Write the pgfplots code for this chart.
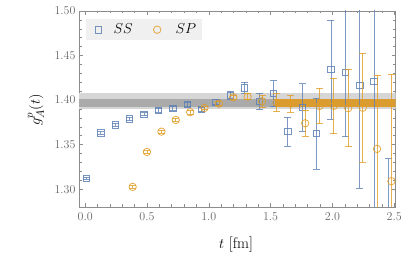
\documentclass[border=0pt]{standalone}
\usepackage{pgfplots}
\pgfplotsset{compat=1.18}
\usepackage{pgfplotstable}
\definecolor{mblue}{rgb}{0.368417,0.506779,0.709798}
\definecolor{morange}{rgb}{0.880722,0.611041,0.142051}
\definecolor{bandlight}{RGB}{214,214,214}
\definecolor{banddark}{RGB}{170,170,170}
\definecolor{bandorange}{RGB}{218,155,48}

\pgfplotstableread{
t g e
0.011 1.3123 0.0012
0.127 1.3632 0.0015
0.244 1.3721 0.0015
0.360 1.3789 0.0018
0.476 1.3841 0.0018
0.593 1.3886 0.0020
0.709 1.3909 0.0020
0.825 1.3949 0.0025
0.941 1.3893 0.0025
1.058 1.3976 0.0030
1.174 1.4054 0.0047
1.290 1.4136 0.0066
1.407 1.3983 0.0093
1.523 1.4072 0.0144
1.639 1.3646 0.0165
1.756 1.3920 0.0266
1.872 1.3624 0.0400
1.988 1.4342 0.0557
2.104 1.4308 0.0718
2.221 1.4162 0.1150
2.337 1.4211 0.1600
2.453 1.2200 0.1140
}\datass

\pgfplotstableread{
t g e
0.384 1.3026 0.0015
0.500 1.3418 0.0015
0.617 1.3646 0.0018
0.733 1.3777 0.0018
0.849 1.3864 0.0020
0.965 1.3912 0.0020
1.082 1.3960 0.0025
1.198 1.4032 0.0025
1.314 1.4039 0.0035
1.431 1.3987 0.0065
1.547 1.3971 0.0100
1.663 1.3960 0.0095
1.780 1.3740 0.0146
1.896 1.3934 0.0199
2.012 1.3934 0.0310
2.128 1.3909 0.0430
2.245 1.3914 0.0610
2.361 1.3452 0.0830
2.477 1.3090 0.1200
}\datasp

\begin{document}
\begin{tikzpicture}
\useasboundingbox (-79pt,-52pt) rectangle (328pt,207pt);
\begin{axis}[
  scale only axis, width=316.7pt, height=196pt,
  xmin=-0.05, xmax=2.512, ymin=1.28, ymax=1.50,
  xtick={0,0.5,1,1.5,2,2.5}, minor x tick num=4,
  ytick={1.30,1.35,1.40,1.45,1.50}, minor y tick num=4,
  tick align=inside, major tick length=4pt, minor tick length=2.5pt,
  axis line style={black!45, line width=0.6pt},
  every tick/.style={black!45, line width=0.5pt},
  tick label style={font=\fontsize{13}{15}\selectfont, text=black!60},
  xticklabel style={yshift=-2pt, /pgf/number format/.cd, fixed, fixed zerofill, precision=1},
  yticklabel style={/pgf/number format/.cd, fixed, fixed zerofill, precision=2},
  xlabel={$t$ [fm]},
  ylabel={$g_A^p(t)$},
  label style={font=\fontsize{15.5}{18}\selectfont},
  xlabel style={at={(axis description cs:0.496,-0.194)}, anchor=center},
  ylabel style={at={(axis description cs:-0.136,0.495)}, anchor=center},
  clip mode=individual,
  legend columns=2,
  legend image code/.code={\path[draw=none,fill=none] (-8.5pt,0pt) -- (8.5pt,0pt); \draw[#1] plot coordinates {(0pt,0pt)};},
  legend style={at={(0.022,0.96)}, anchor=north west, fill=black!6, draw=none,
    inner xsep=3.5pt, inner ysep=3pt,
    font=\fontsize{15}{18}\selectfont},
]
% bands
\addplot[fill=bandlight, draw=none, forget plot] coordinates {(-0.2,1.3895) (2.7,1.3895) (2.7,1.4075) (-0.2,1.4075)} -- cycle;
\addplot[fill=banddark, draw=none, forget plot] coordinates {(-0.2,1.3925) (2.7,1.3925) (2.7,1.4017) (-0.2,1.4017)} -- cycle;
\addplot[fill=bandorange, draw=none, forget plot] coordinates {(1.537,1.3925) (2.7,1.3925) (2.7,1.4015) (1.537,1.4015)} -- cycle;

% SS
\addplot[only marks, mark=square, mark size=3.2pt,
  mark options={draw=mblue, fill=none, line width=0.8pt, draw opacity=0.85},
  error bars/.cd, y dir=both, y explicit,
  error bar style={mblue, line width=0.8pt, opacity=0.8},
  error mark options={rotate=90, mark size=3.5pt, mblue, line width=0.8pt, opacity=0.8}]
  table[x=t, y=g, y error=e] {\datass};
\addlegendentry{\hspace*{5pt}$SS$\hspace*{14pt}\mbox{}}

% SP
\addplot[only marks, mark=o, mark size=3.7pt,
  mark options={draw=morange, fill=none, line width=0.8pt, draw opacity=0.85},
  error bars/.cd, y dir=both, y explicit,
  error bar style={morange, line width=0.8pt, opacity=0.8},
  error mark options={rotate=90, mark size=3.5pt, morange, line width=0.8pt, opacity=0.8}]
  table[x=t, y=g, y error=e] {\datasp};
\addlegendentry{\hspace*{8pt}$SP$}
\end{axis}
\end{tikzpicture}
\end{document}
